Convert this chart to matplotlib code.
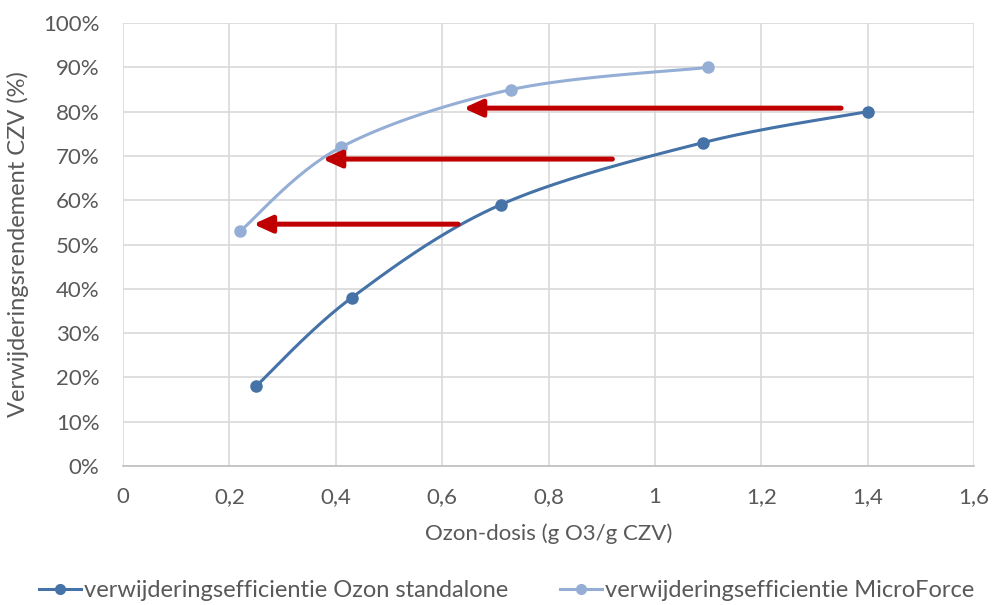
import numpy as np
import matplotlib
matplotlib.use("Agg")
import matplotlib.pyplot as plt
import matplotlib.patheffects as pe
from matplotlib.ticker import FuncFormatter

# data
dose_standalone = [0.25, 0.43, 0.71, 1.09, 1.40]
eff_standalone = [18, 38, 59, 73, 80]
dose_microforce = [0.22, 0.41, 0.73, 1.10]
eff_microforce = [53, 72, 85, 90]

# red arrows: (start dose, end dose, level %)
arrow_start = [1.35, 0.92, 0.63]
arrow_end = [0.64, 0.375, 0.245]
arrow_level = [80.8, 69.3, 54.6]

label_standalone = "verwijderingsefficientie Ozon standalone"
label_microforce = "verwijderingsefficientie MicroForce"

TXT = "#595959"
FS = 16
plt.rcParams['font.family'] = ['Lato', 'DejaVu Sans']


def smooth(xs, ys, xspan=1.6, yspan=100.0, aspect=443 / 851, n=40):
    # Catmull-Rom style bezier smoothing, like Excel's smoothed lines
    p = np.column_stack([np.array(xs) / xspan, np.array(ys) / yspan * aspect])
    out = []
    for i in range(len(p) - 1):
        p0 = p[i - 1] if i > 0 else p[i]
        p1, p2 = p[i], p[i + 1]
        p3 = p[i + 2] if i + 2 < len(p) else p[i + 1]
        c1 = p1 + (p2 - p0) / 6
        c2 = p2 - (p3 - p1) / 6
        t = np.linspace(0, 1, n)[:, None]
        seg = ((1 - t) ** 3) * p1 + 3 * ((1 - t) ** 2) * t * c1 + 3 * (1 - t) * t ** 2 * c2 + t ** 3 * p2
        out.append(seg if i == 0 else seg[1:])
    s = np.vstack(out)
    return s[:, 0] * xspan, s[:, 1] / aspect * yspan


fig = plt.figure(figsize=(9.97, 6.05), dpi=100)
ax = fig.add_axes([0.1234, 0.2298, 0.8536, 0.732])

c1 = "#4572A7"
c2 = "#95AED6"
sx, sy = smooth(dose_standalone, eff_standalone)
ax.plot(sx, sy, color=c1, lw=2.2, zorder=3, solid_capstyle='round')
ax.plot(dose_standalone, eff_standalone, 'o', color=c1, ms=8, zorder=4)
mx, my = smooth(dose_microforce, eff_microforce)
ax.plot(mx, my, color=c2, lw=2.2, zorder=3, solid_capstyle='round')
ax.plot(dose_microforce, eff_microforce, 'o', color=c2, ms=8, zorder=4)

for x0, x1, yv in zip(arrow_start, arrow_end, arrow_level):
    ax.annotate("", xy=(x1, yv), xytext=(x0, yv),
                arrowprops=dict(arrowstyle="-|>,head_length=1.1,head_width=0.5",
                                color="#C00000", lw=3.6, shrinkA=0, shrinkB=0,
                                path_effects=[pe.SimplePatchShadow(offset=(1.5, -2), alpha=0.35), pe.Normal()]),
                zorder=5)

ax.set_xlim(0, 1.6)
ax.set_ylim(0, 100)
ax.set_xticks(np.arange(0, 1.61, 0.2))
ax.set_yticks(np.arange(0, 101, 10))
ax.xaxis.set_major_formatter(FuncFormatter(lambda v, _: ("%g" % round(v, 1)).replace(".", ",")))
ax.yaxis.set_major_formatter(FuncFormatter(lambda v, _: "%d%%" % v))
ax.grid(True, color="#D9D9D9", lw=1.2)
ax.set_axisbelow(True)
for s in ["top", "right", "left"]:
    ax.spines[s].set_visible(False)
ax.spines["bottom"].set_color("#BFBFBF")
ax.spines["bottom"].set_linewidth(1.2)
ax.tick_params(length=0, labelsize=FS, labelcolor=TXT)
ax.tick_params(axis='x', pad=15)
ax.tick_params(axis='y', pad=17)

ax.set_xlabel("Ozon-dosis (g O3/g CZV)", fontsize=FS, color=TXT, labelpad=12)
ax.set_ylabel("Verwijderingsrendement CZV (%)", fontsize=FS + 1, color=TXT, labelpad=10)

h1, = ax.plot([], [], '-o', color=c1, lw=2.2, ms=7)
h2, = ax.plot([], [], '-o', color=c2, lw=2.2, ms=7)
fig.legend([h1, h2], [label_standalone, label_microforce], loc="center",
           bbox_to_anchor=(0.508, 0.024), ncol=2, frameon=False, fontsize=FS + 1,
           labelcolor=TXT, handlelength=1.8, handletextpad=0.1, columnspacing=2.2)

fig.savefig("out.png", dpi=100)
